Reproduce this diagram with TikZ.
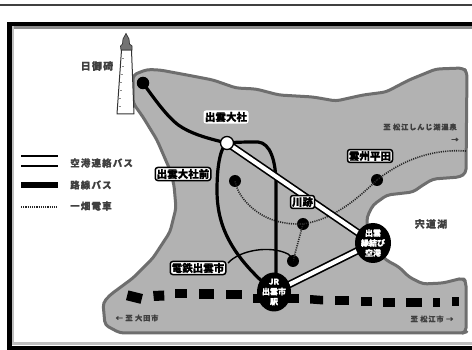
\documentclass[tikz,border=0pt]{standalone}
\usepackage{fontspec}
\newfontfamily\jp[FakeBold=0.6]{Noto Sans CJK JP}
\newfontfamily\jps[LetterSpace=12,FakeBold=0.4]{Noto Sans CJK JP}
\usetikzlibrary{calc,shapes.geometric}
\definecolor{land}{HTML}{B2B2B2}
\definecolor{coast}{HTML}{6E6E6E}
\tikzset{
  plain/.style={font=\jps\bfseries\fontsize{#1}{#1}\selectfont,text=black!75,inner sep=0pt},
  plain/.default=10,
  halo/.style={font=\jp\bfseries\fontsize{10.5}{11}\selectfont,text=black,fill=white,rounded corners=2.5pt,inner sep=1.5pt},
  boxed/.style={halo,draw=black,line width=1.5pt},
  terminal/.style={draw=none,fill=black,ellipse,text=white,align=center,inner sep=0pt},
  stationdot/.style={circle,fill=black,minimum size=12pt,inner sep=0pt},
  mainbus/.style={line width=3.2pt,draw=black,line cap=round},
  railway/.style={line width=1.6pt,draw=black!85,dash pattern=on 1.1pt off 1.1pt},
  airporton/.style={line width=7.5pt,draw=black},
  airportin/.style={line width=4.2pt,draw=white},
  seg/.style={fill=black}
}
\begin{document}
\begin{tikzpicture}[x=1pt,y=-1pt]
\useasboundingbox (0,0) rectangle (472,350);
\fill[white] (0,0) rectangle (472,350);
% top rule and frame
\draw[line width=1.8pt,black!75] (0,5) -- (472,5);
\fill[black!45] (12,26) rectangle (472,29);
\fill[black!25] (12,26) rectangle (14,345);
\fill[black!25] (12,342) rectangle (472,345);
\fill[white] (14,29) rectangle (472,342);
\fill[black] (7,22) rectangle (472,26.5);
\fill[black] (7,22) rectangle (11.5,350);
\fill[black] (7,346) rectangle (472,350);
% land
\draw[fill=land,draw=coast,line width=3pt,line join=round,rounded corners=4pt]
 (133,75) -- (147,69.5) -- (160,70) -- (187,75) -- (213,80) -- (236,88) -- (256,89) -- (279,95)
 -- (313,97) -- (336,101) -- (363,95) -- (386,92) -- (409,80) -- (436,69) -- (463,68) -- (467,72)
 -- (466,173) -- (460,177) -- (433,179) -- (423,185) -- (413,192) -- (387,195) -- (373,205)
 -- (367,217) -- (367,240) -- (386,260) -- (399,267) -- (409,277) -- (423,284) -- (443,283)
 -- (463,278) -- (466,282) -- (466,332) -- (463,333) -- (120,333) -- (105,325) -- (103,303)
 -- (110,295) -- (133,278) -- (153,258) -- (170,232) -- (176,208) -- (174,185) -- (170,170)
 -- (157,140) -- (143,117) -- (133,103) -- cycle;
% lighthouse
\draw[fill=white,draw=black!80,line width=1pt,line join=round] (117,114) -- (134,114) -- (131.5,50) -- (121.5,50) -- cycle;
\draw[fill=black!55,draw=black!80,line width=0.7pt] (121,50) -- (120.5,46) -- (122.5,44) -- (123,39) -- (126,33.5) -- (129,39) -- (129.5,44) -- (132,46) -- (132,50) -- cycle;
\foreach \yy/\xa/\xb in {58/122/124,66/121.5/124,74/121/123,82/120/122,90/120/122,98/119/121,106/119/121}
  \draw[black!45,line width=0.5pt] (\xa,\yy) -- (\xb,\yy);
% bus segments
\fill[seg,rotate around={-14:(134,297)}] (127,292) rectangle (142,302);
\fill[seg] (153,291) -- (164,290.5) -- (164.5,300.5) -- (154,301) -- cycle;
\fill[seg] (175,289) rectangle (187,298);
\fill[seg] (199,289.5) rectangle (214,299);
\fill[seg] (226,290) rectangle (242,299);
\fill[seg] (253,294) rectangle (299,303);
\fill[seg] (310,295) -- (323,296) -- (323,304.5) -- (310,303.5) -- cycle;
\fill[seg] (335,296.5) rectangle (349,305);
\fill[seg] (361,297) rectangle (372,306);
\fill[seg] (383,298) rectangle (395,307);
\fill[seg] (406,298) rectangle (422,307);
\fill[seg] (433,298) rectangle (440,307);
\fill[seg] (452,297) rectangle (459,306);
% stations
\node[stationdot,minimum size=12.5pt] (hino) at (143,83) {};
\node[stationdot] (heita) at (377,180) {};
\node[stationdot] (kawa) at (303,224) {};
\node[stationdot] (north) at (235,181) {};
\node[stationdot] (dentetsu) at (293,261) {};
\coordinate (taisha) at (227,143);
\coordinate (jrc) at (274,292);
\coordinate (apc) at (373,243);
% railway
\draw[railway] (466,151) .. controls (435,149) and (405,158) .. (heita.center);
\draw[railway] (heita.center) .. controls (358,198) and (335,219) .. (kawa.center);
\draw[railway] (kawa.center) .. controls (275,225) and (258,215) .. (246,202) .. controls (240,195) and (237,190) .. (north.center);
\draw[railway] (kawa.center) -- (dentetsu.center);
% bus routes
\draw[mainbus] (hino.center) .. controls (160,107) and (172,122) .. (183,128) .. controls (195,135) and (210,139) .. (taisha);
\draw[mainbus] (taisha) .. controls (222,146) and (217,160) .. (217,190) .. controls (217,225) and (230,255) .. (jrc);
\draw[mainbus] (taisha) .. controls (235,142) and (250,142) .. (258,142) .. controls (270,143) and (276,160) .. (276,185) -- (276,285);
\draw[black,line width=1.4pt] (228,263) .. controls (240,250) and (270,245) .. (288,254) .. controls (291,256) and (292,258) .. (dentetsu.center);
% airport bus
\draw[airporton] (taisha) -- (apc);
\draw[airporton] (apc) -- (jrc);
\draw[airportin] (taisha) -- (apc);
\draw[airportin] (apc) -- (jrc);
\node[circle,fill=white,draw=black,line width=1.3pt,minimum size=13pt,inner sep=0pt] (taishadot) at (taisha) {};
% terminals
\node[terminal,minimum width=34pt,minimum height=39pt,font=\jp\bfseries\fontsize{8}{10.5}\selectfont] (jr) at (jrc) {JR\\[-0.5pt]出雲市\\[-0.5pt]駅};
\node[terminal,minimum width=36pt,minimum height=40pt,font=\jp\bfseries\fontsize{8}{10.5}\selectfont] (airport) at (apc) {出雲\\[-0.5pt]縁結び\\[-0.5pt]空港};
% labels
\node[plain=10] (lhino) at (97,66) {日御碕};
\node[halo] (ltaisha) at (226,117) {出雲大社};
\node[boxed] (lmae) at (183,174) {出雲大社前};
\node[boxed] (lheita) at (370,156) {雲州平田};
\node[boxed] (lkawa) at (302.5,202) {川跡};
\node[boxed] (lden) at (198,268) {電鉄出雲市};
\node[plain=7.2] (lonsen) at (420,127) {至 松江しんじ湖温泉};
\node[plain=7.2] (aonsen) at (455,140) {→};
\node[plain=7.2] (lmatsue) at (432,319) {至 松江市 →};
\node[plain=7.2] (loda) at (137,318) {← 至 大田市};
\node[plain=10] (lshinji) at (431,224) {宍道湖};
% legend
\coordinate (k1) at (21,156); \coordinate (k1e) at (58,156);
\coordinate (k2) at (21,166); \coordinate (k2e) at (58,166);
\coordinate (k3) at (21,185); \coordinate (k3e) at (58,185);
\coordinate (k4) at (21,207); \coordinate (k4e) at (58,207);
\draw[black,line width=1.4pt] (k1) -- (k1e);
\draw[black,line width=1.4pt] (k2) -- (k2e);
\draw[black,line width=6.5pt] (k3) -- (k3e);
\draw[railway,line width=1.4pt] (k4) -- (k4e);
\node[plain=9.5,anchor=west] (t1) at (70,163) {空港連絡バス};
\node[plain=9.5,anchor=west] (t2) at (70,185) {路線バス};
\node[plain=9.5,anchor=west] (t3) at (70,206) {一畑電車};
\end{tikzpicture}
\end{document}
